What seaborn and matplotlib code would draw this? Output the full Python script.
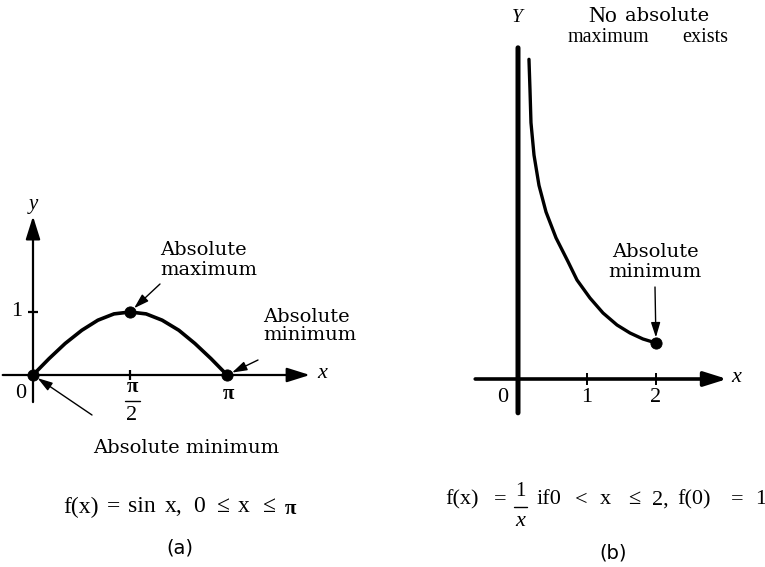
import seaborn as sns
import matplotlib.pyplot as plt
from matplotlib.lines import Line2D

# values
# panel (a): f(x) = sin x, 0 <= x <= pi
sin_x = [0.0, 0.26, 0.52, 0.79, 1.05, 1.31, 1.57, 1.83, 2.09, 2.36, 2.62, 2.88, 3.14]
sin_y = [0.0, 0.26, 0.50, 0.71, 0.87, 0.97, 1.00, 0.97, 0.87, 0.71, 0.50, 0.26, 0.0]
a_pts_x = [0.0, 1.57, 3.14]
a_pts_y = [0.0, 1.0, 0.0]

# panel (b): f(x) = 1/x on (0, 2], the curve as drawn in the picture
recip_x = [0.159, 0.174, 0.188, 0.232, 0.304, 0.406, 0.551, 0.725, 0.855,
           1.043, 1.232, 1.435, 1.623, 1.81, 2.0]
recip_y = [4.44, 4.01, 3.56, 3.11, 2.69, 2.32, 1.96, 1.63, 1.375,
           1.125, 0.917, 0.75, 0.639, 0.556, 0.5]
b_pts_x = [2.0]
b_pts_y = [0.5]
b_ticks = [1, 2]

W, H = 765, 567

sns.set_style("white")
plt.rcParams["font.family"] = ["Liberation Serif", "DejaVu Serif"]
plt.rcParams["text.color"] = "black"
plt.rcParams["mathtext.fontset"] = "stix"

fig = plt.figure(figsize=(W / 100, H / 100), dpi=100)


# pixel position (from top left) -> figure fraction
def P(x, y):
    return (x / W, 1 - y / H)


def txt(s, x, y, size=14, **kw):
    kw.setdefault("ha", "center")
    kw.setdefault("va", "center")
    fig.text(*P(x, y), s, fontsize=size, color="black", **kw)


def hbar(x0, x1, y, lw=1.0):
    fig.add_artist(Line2D([x0 / W, x1 / W], [1 - y / H, 1 - y / H],
                          color="k", lw=lw))


def arrow_line(ax, start, end, lw, head="-|>,head_length=0.7,head_width=0.22"):
    ax.annotate("", xy=end, xytext=start,
                arrowprops=dict(arrowstyle=head, lw=lw, color="k",
                                shrinkA=0, shrinkB=0, mutation_scale=20))


def pointer(ax, start_px, xy):
    ax.annotate("", xy=xy, xycoords="data", xytext=P(*start_px),
                textcoords="figure fraction",
                arrowprops=dict(arrowstyle="-|>,head_length=0.45,head_width=0.14",
                                lw=1.0, color="k", shrinkA=0, shrinkB=4,
                                mutation_scale=20))


def tick(ax, x0, y0, x1, y1, lw):
    ax.plot([x0, x1], [y0, y1], color="k", lw=lw, solid_capstyle="butt")


# ---------------- panel (a) ----------------
ax_a = fig.add_axes([0, 0, 380 / W, 1])
ox, oy, sx, sy = 33, 375, 61.8, 63.0

arrow_line(ax_a, (-0.49, 0), (4.48, 0), 1.6)
arrow_line(ax_a, (0, -0.43), (0, 2.52), 1.6)
tick(ax_a, 1.57, -0.08, 1.57, 0.08, 1.6)
tick(ax_a, -0.08, 1.0, 0.08, 1.0, 1.6)

sns.lineplot(x=sin_x, y=sin_y, ax=ax_a, color="k", lw=2.6, sort=False)
sns.scatterplot(x=a_pts_x, y=a_pts_y, ax=ax_a, color="k", s=65,
                edgecolor="k", zorder=5)

ax_a.set_xlim((0 - ox) / sx, (380 - ox) / sx)
ax_a.set_ylim((oy - H) / sy, oy / sy)
ax_a.axis("off")

pointer(ax_a, (160, 284), (a_pts_x[1], a_pts_y[1]))
pointer(ax_a, (258, 360), (a_pts_x[2], a_pts_y[2]))
pointer(ax_a, (92, 415), (a_pts_x[0], a_pts_y[0]))

txt("y", 33, 205, 15, style="italic")
txt("x", 322, 374, 16, style="italic")
txt("0", 21, 394, 16)
txt("1", 17, 312, 16)
txt("\u03c0", 132, 387, 15, weight="bold")
hbar(125, 140, 401)
txt("2", 132, 416, 16)
txt("\u03c0", 228, 394, 15, weight="bold")

txt("Absolute\nmaximum", 160, 260, 14, ha="left", family="DejaVu Serif",
    linespacing=1.15)
txt("Absolute\nminimum", 263, 326, 14, ha="left", family="DejaVu Serif",
    linespacing=0.95)
txt("Absolute minimum", 93, 448, 14, ha="left", family="DejaVu Serif")

# caption (a)
for s, x in [("f(x)", 63), ("=", 107), ("sin", 128), ("x,", 165), ("0", 193),
             ("\u2264", 217), ("x", 238), ("\u2264", 263)]:
    txt(s, x, 507, 17, ha="left")
txt("\u03c0", 285, 509, 15, ha="left", weight="bold")
txt("(a)", 180, 548, 14, family="DejaVu Sans")

# ---------------- panel (b) ----------------
ax_b = fig.add_axes([380 / W, 0, 385 / W, 1])
ox, oy, sx, sy = 518, 379, 69.0, 72.0

arrow_line(ax_b, (-0.62, 0), (3.03, 0), 2.6)
arrow_line(ax_b, (0, -0.47), (0, 4.6), 3.6, head="-")
for t in b_ticks:
    tick(ax_b, t, -0.09, t, 0.09, 1.4)

sns.lineplot(x=recip_x, y=recip_y, ax=ax_b, color="k", lw=2.4, sort=False)
sns.scatterplot(x=b_pts_x, y=b_pts_y, ax=ax_b, color="k", s=65,
                edgecolor="k", zorder=5)

ax_b.set_xlim((380 - ox) / sx, (765 - ox) / sx)
ax_b.set_ylim((oy - H) / sy, oy / sy)
ax_b.axis("off")

pointer(ax_b, (655, 287), (b_pts_x[0], b_pts_y[0]))

txt("Y", 517, 18, 14, style="italic")
txt("x", 736, 378, 16, style="italic")
txt("0", 503, 398, 16)
for t in b_ticks:
    txt(str(t), ox + sx * t, 398, 16)

txt("No", 588, 16, 17, ha="left")
txt("absolute", 625, 16, 14, ha="left", family="DejaVu Serif")
txt("maximum", 568, 38, 14.5, ha="left")
txt("exists", 682, 38, 14.5, ha="left")

txt("Absolute\nminimum", 655, 262, 14, family="DejaVu Serif",
    linespacing=1.1)

# caption (b)
for s, x in [("f(x)", 445), ("=", 494), ("if0", 537), ("<", 575), ("x", 600),
             ("\u2264", 628), ("2,", 652), ("f(0)", 677), ("=", 731), ("1", 755)]:
    txt(s, x, 500, 16, ha="left")
txt("1", 520, 492, 15)
hbar(514, 527, 507)
txt("x", 520, 521, 16, style="italic")
txt("(b)", 613, 553, 14, family="DejaVu Sans")

fig.savefig("out.png", dpi=100, facecolor="white")
